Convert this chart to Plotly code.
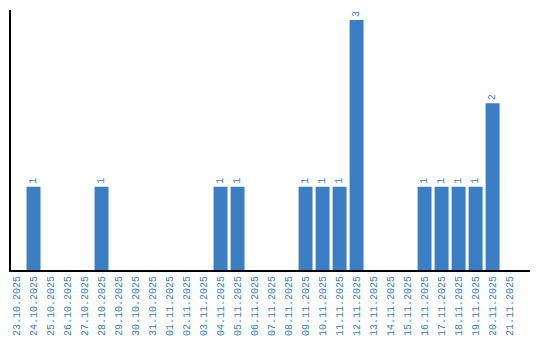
import plotly.graph_objects as go

dates = ["23.10.2025","24.10.2025","25.10.2025","26.10.2025","27.10.2025","28.10.2025",
         "29.10.2025","30.10.2025","31.10.2025","01.11.2025","02.11.2025","03.11.2025",
         "04.11.2025","05.11.2025","06.11.2025","07.11.2025","08.11.2025","09.11.2025",
         "10.11.2025","11.11.2025","12.11.2025","13.11.2025","14.11.2025","15.11.2025",
         "16.11.2025","17.11.2025","18.11.2025","19.11.2025","20.11.2025","21.11.2025"]
counts = [0,1,0,0,0,1,0,0,0,0,0,0,1,1,0,0,0,1,1,1,3,0,0,0,1,1,1,1,2,0]

labels = [str(c) if c > 0 else "" for c in counts]
blue = "#3b7ec3"
font = "Liberation Mono, DejaVu Sans Mono, monospace"

fig = go.Figure(go.Bar(
    x=list(range(len(dates))), y=counts, text=labels,
    textposition="outside", textangle=-90, cliponaxis=False,
    textfont=dict(family=font, size=10, color=blue),
    marker=dict(color=blue, line=dict(width=0)),
    width=0.82,
))
fig.update_layout(
    width=540, height=340,
    margin=dict(l=11, r=10, t=10, b=70),
    paper_bgcolor="white", plot_bgcolor="white",
    showlegend=False,
    xaxis=dict(
        tickmode="array", tickvals=list(range(len(dates))), ticktext=dates,
        tickangle=-90, range=[-0.324, 30.2], automargin=False,
        showline=True, linecolor="black", linewidth=2,
        showgrid=False, zeroline=False, ticks="",
        tickfont=dict(family=font, size=10, color=blue),
    ),
    yaxis=dict(
        range=[0, 3.12], showline=True, linecolor="black", linewidth=2,
        showgrid=False, zeroline=False, showticklabels=False, ticks="",
        automargin=False,
    ),
)
fig.write_html("out.html")
